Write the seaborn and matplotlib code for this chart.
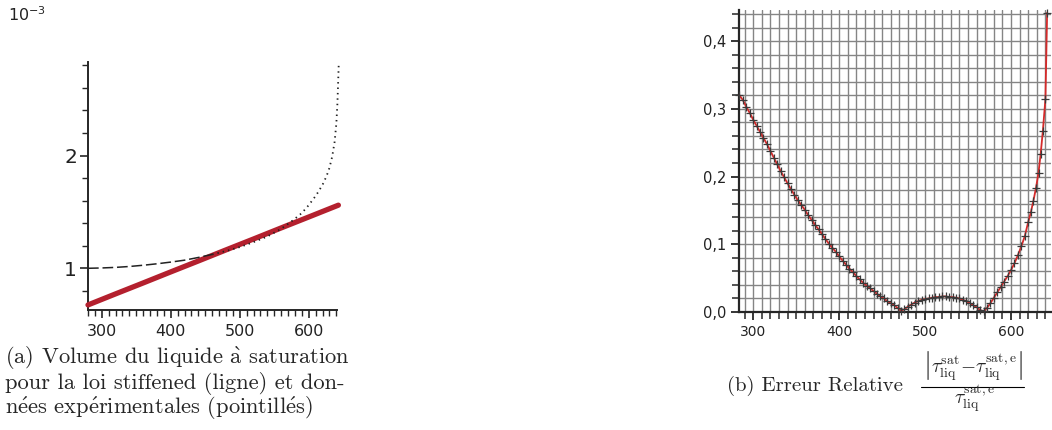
import matplotlib
matplotlib.use('Agg')
import matplotlib.pyplot as plt
import seaborn as sns
from matplotlib.lines import Line2D
from matplotlib.ticker import MultipleLocator

# (a) saturated liquid volume, units of 1e-3
T_stiff = [280, 320, 360, 400, 440, 480, 520, 560, 600, 643]
v_stiff = [0.675, 0.773, 0.870, 0.968, 1.065, 1.163, 1.260, 1.358, 1.455, 1.560]

T_exp = [280, 300, 320, 340, 360, 380, 400, 420, 440, 460, 480, 500, 520, 540,
         560, 577, 590, 600, 611, 620, 626, 630, 634, 637.5, 640, 641.5, 642.5, 643.5]
v_exp = [1.000, 1.003, 1.008, 1.016, 1.027, 1.040, 1.055, 1.072, 1.096, 1.123, 1.153,
         1.188, 1.232, 1.282, 1.350, 1.425, 1.490, 1.560, 1.650, 1.740, 1.820, 1.890,
         1.990, 2.120, 2.280, 2.450, 2.620, 2.810]

# (b) relative error
T_err = [284, 288, 292, 296, 300, 304, 308, 312, 316, 320, 324, 328, 332, 336,
         340, 344, 348, 352, 356, 360, 364, 368, 372, 376, 380, 384, 388, 392,
         396, 400, 404, 408, 412, 416, 420, 424, 428, 432, 436, 440, 444, 448,
         452, 456, 460, 464, 468, 472, 476, 480, 484, 488, 492, 496, 500, 504,
         508, 512, 516, 520, 524, 528, 532, 536, 540, 544, 548, 552, 556, 560,
         564, 568, 572, 576, 580, 584, 588, 592, 596, 600, 604, 608, 612, 616,
         620, 623, 626, 629, 632, 634.5, 637, 640, 642]
err = [0.320, 0.313, 0.303, 0.294, 0.284, 0.275, 0.266, 0.257, 0.248, 0.238, 0.228, 0.218, 0.208, 0.199,
       0.190, 0.181, 0.173, 0.165, 0.158, 0.151, 0.143, 0.136, 0.129, 0.122, 0.115, 0.108, 0.101, 0.095,
       0.089, 0.082, 0.076, 0.070, 0.064, 0.059, 0.053, 0.048, 0.043, 0.039, 0.035, 0.031, 0.027, 0.023,
       0.020, 0.016, 0.013, 0.010, 0.006, 0.002, 0.004, 0.008, 0.011, 0.014, 0.016, 0.018, 0.019, 0.020,
       0.021, 0.022, 0.022, 0.023, 0.023, 0.022, 0.022, 0.021, 0.020, 0.018, 0.016, 0.013, 0.010, 0.007,
       0.003, 0.001, 0.006, 0.013, 0.021, 0.029, 0.037, 0.045, 0.053, 0.062, 0.072, 0.084, 0.097, 0.112,
       0.133, 0.147, 0.164, 0.183, 0.206, 0.234, 0.267, 0.314, 0.442]

xticks = [300, 400, 500, 600]
xlabels = ['300', '400', '500', '600']
yticks_a = [1, 2]
ylabels_a = ['1', '2']
yticks_b = [0.0, 0.1, 0.2, 0.3, 0.4]
ylabels_b = ['0,0', '0,1', '0,2', '0,3', '0,4']

sns.set_style('ticks')
plt.rcParams['font.family'] = ['DejaVu Sans']
plt.rcParams['mathtext.fontset'] = 'cm'

fig = plt.figure(figsize=(10.52, 4.30), dpi=100)
W, H = 1052, 430

# ---- left panel
ax1 = fig.add_axes([88 / W, 1 - 310 / H, 249 / W, 248 / H])
sns.lineplot(x=T_stiff, y=v_stiff, ax=ax1, color='#b4202e', lw=3.8, clip_on=False, zorder=3)
n_dash = 10
sns.lineplot(x=T_exp[:n_dash], y=v_exp[:n_dash], ax=ax1, color='#222222', lw=1.1,
             linestyle=(0, (7, 2.5)), clip_on=False, zorder=4)
sns.lineplot(x=T_exp[n_dash - 1:], y=v_exp[n_dash - 1:], ax=ax1, color='#222222', lw=1.3,
             linestyle=(0, (0.8, 2.2)), clip_on=False, zorder=4, sort=False)
ax1.set_xlim(280, 641)
ax1.set_ylim(0.63, 2.83)
ax1.set_xticks(xticks)
ax1.set_xticklabels(xlabels, fontsize=11.5, color='#222222')
ax1.set_yticks(yticks_a)
ax1.set_yticklabels(ylabels_a, fontsize=14.5, color='#222222')
ax1.xaxis.set_minor_locator(MultipleLocator(10))
ax1.yaxis.set_minor_locator(MultipleLocator(0.2))
ax1.tick_params(which='major', length=6, width=1.2, pad=4)
ax1.tick_params(axis='y', which='major', pad=2)
ax1.tick_params(which='minor', length=4, width=1.0)
sns.despine(ax=ax1)
for s in ['left', 'bottom']:
    ax1.spines[s].set_linewidth(1.4)
ax1.set_xlabel('')
ax1.set_ylabel('')

fig.text(8 / W, 1 - 15 / H, r'$10^{-3}$', fontsize=11.5, va='center', ha='left',
         math_fontfamily='dejavusans', color='#222222')

# ---- right panel
ax2 = fig.add_axes([739 / W, 1 - 312 / H, 312 / W, 302 / H])
ax2.set_axisbelow(True)
sns.lineplot(x=T_err, y=err, ax=ax2, color='#d42a2a', lw=1.3, clip_on=False, zorder=3)
sns.scatterplot(x=T_err, y=err, ax=ax2, marker='+', color='#3a3a3a', s=32, linewidth=0.9,
                clip_on=False, zorder=4)
ax2.set_xlim(283.5, 646.5)
ax2.set_ylim(0, 0.446)
ax2.set_xticks(xticks)
ax2.set_xticklabels(xlabels, fontsize=10, color='#222222')
ax2.set_yticks(yticks_b)
ax2.set_yticklabels(ylabels_b, fontsize=10.5, color='#222222')
ax2.xaxis.set_minor_locator(MultipleLocator(10))
ax2.yaxis.set_minor_locator(MultipleLocator(0.02))
ax2.grid(which='both', color='#858585', lw=1.0)
ax2.tick_params(which='major', length=6, width=1.3, pad=3)
ax2.tick_params(which='minor', length=5, width=1.1)
sns.despine(ax=ax2)
for s in ['left', 'bottom']:
    ax2.spines[s].set_linewidth(1.6)
ax2.set_xlabel('')
ax2.set_ylabel('')

# ---- captions
cap_font = ['cmr10', 'DejaVu Serif']
e_ac = r'$\acute{\rm e}$'
cap_a = [r'(a) Volume du liquide $\grave{\rm a}$ saturation',
         'pour la loi stiffened (ligne) et don-',
         'n' + e_ac + 'es exp' + e_ac + 'rimentales (pointill' + e_ac + 's)']
for i, line in enumerate(cap_a):
    fig.text(5 / W, 1 - (364 + 25 * i) / H, line, family=cap_font, fontsize=16.2,
             va='baseline', ha='left')

fig.text(727 / W, 1 - 391 / H, '(b) Erreur Relative', family=cap_font, fontsize=15,
         va='baseline', ha='left')
# fraction: numerator, bar, denominator
fig.text(973 / W, 1 - 373 / H,
         r'$\left|\tau_{\rm liq}^{\rm sat}\!-\!\tau_{\rm liq}^{\rm sat,e}\right|$',
         fontsize=14, va='baseline', ha='center')
fig.add_artist(Line2D([921 / W, 1024 / W], [1 - 387 / H, 1 - 387 / H], color='black', lw=0.8))
fig.text(975 / W, 1 - 404 / H, r'$\tau_{\rm liq}^{\rm sat,e}$',
         fontsize=14, va='baseline', ha='center')

fig.savefig('out.png', dpi=100)
